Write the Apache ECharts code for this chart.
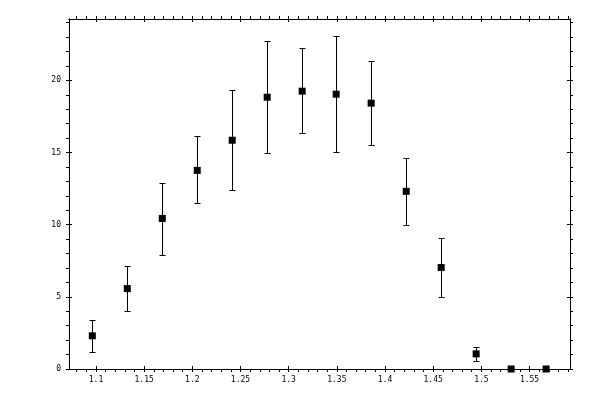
<!DOCTYPE html>
<html>
<head>
<meta charset="utf-8">
<script src="https://cdn.jsdelivr.net/npm/echarts@6/dist/echarts.min.js"></script>
<style>html,body{margin:0;padding:0;background:#fff}#c{width:600px;height:400px}</style>
</head>
<body>
<div id="c"></div>
<script>
var xValues = [1.0962, 1.1325, 1.1688, 1.2051, 1.2414, 1.2777, 1.3140, 1.3493, 1.3856, 1.4220, 1.4583, 1.4946, 1.5309, 1.5672];
var yValues = [2.30, 5.57, 10.43, 13.76, 15.85, 18.83, 19.25, 19.04, 18.42, 12.31, 7.03, 1.05, 0, 0];
var yHigh   = [3.42, 7.17, 12.86, 16.13, 19.32, 22.72, 22.24, 23.07, 21.33, 14.60, 9.11, 1.54, 0, 0];
var yLow    = [1.15, 4.04, 7.93, 11.47, 12.38, 14.94, 16.33, 15.01, 15.50, 10.01, 4.97, 0.57, 0, 0];
var xMajorTicks = [1.1, 1.15, 1.2, 1.25, 1.3, 1.35, 1.4, 1.45, 1.5, 1.55];
var xMinorTicks = [1.08,1.09,1.10,1.11,1.12,1.13,1.14,1.15,1.16,1.17,1.18,1.19,1.20,1.21,1.22,1.23,1.24,1.25,1.26,1.27,1.28,1.29,1.30,1.31,1.32,1.33,1.34,1.35,1.36,1.37,1.38,1.39,1.40,1.41,1.42,1.43,1.44,1.45,1.46,1.47,1.48,1.49,1.50,1.51,1.52,1.53,1.54,1.55,1.56,1.57,1.58,1.59];
var yMajorTicks = [0, 5, 10, 15, 20];
var yMinorTicks = [0,1,2,3,4,5,6,7,8,9,10,11,12,13,14,15,16,17,18,19,20,21,22,23,24];
var xMin = 1.072, xMax = 1.592, yMin = 0, yMax = 24.25;

var font = {fontFamily: 'DejaVu Sans Mono', fontSize: 8, color: '#000'};
function xAx(pos, opts) {
  return Object.assign({
    type: 'value', position: pos, min: xMin, max: xMax,
    splitLine: {show: false},
    axisLine: {show: true, onZero: false, lineStyle: {color: '#000', width: 1}},
    axisLabel: {show: false},
    axisTick: {show: false}
  }, opts);
}
function yAx(pos, opts) {
  return Object.assign({
    type: 'value', position: pos, min: yMin, max: yMax,
    splitLine: {show: false},
    axisLine: {show: true, onZero: false, lineStyle: {color: '#000', width: 1}},
    axisLabel: {show: false},
    axisTick: {show: false}
  }, opts);
}
var tickOut = function (vals) { return {show: true, inside: false, length: 3, customValues: vals, lineStyle: {color: '#000', width: 1}}; };
var tickIn = function (vals) { return {show: true, inside: true, length: 3, customValues: vals, lineStyle: {color: '#000', width: 1}}; };

var xAxes = [
  xAx('bottom', {axisTick: tickOut(xMinorTicks),
    axisLabel: Object.assign({show: true, margin: 7, customValues: xMajorTicks, formatter: function (v) { return String(Math.round(v * 100) / 100); }}, font)}),
  xAx('bottom', {axisTick: tickIn(xMajorTicks)}),
  xAx('top', {axisTick: tickOut(xMinorTicks)}),
  xAx('top', {axisTick: tickIn(xMajorTicks)})
];
var yAxes = [
  yAx('left', {axisTick: tickOut(yMinorTicks),
    axisLabel: Object.assign({show: true, margin: 8, customValues: yMajorTicks}, font)}),
  yAx('left', {axisTick: tickIn(yMajorTicks)}),
  yAx('right', {axisTick: tickOut(yMinorTicks)}),
  yAx('right', {axisTick: tickIn(yMajorTicks)})
];

var points = xValues.map(function (x, i) { return [x, yValues[i]]; });
var bars = xValues.map(function (x, i) { return [x, yLow[i], yHigh[i]]; });

var chart = echarts.init(document.getElementById('c'), null, {renderer: 'canvas'});
chart.setOption({
  animation: false,
  backgroundColor: '#fff',
  grid: {left: 69, right: 30, top: 19, bottom: 31, containLabel: false},
  xAxis: xAxes,
  yAxis: yAxes,
  series: [
    {
      type: 'custom', xAxisIndex: 0, yAxisIndex: 0, clip: false,
      data: bars,
      renderItem: function (params, api) {
        var x = api.value(0), lo = api.value(1), hi = api.value(2);
        if (hi - lo <= 0) return {type: 'group', children: []};
        var pTop = api.coord([x, hi]), pBot = api.coord([x, lo]);
        var cx = Math.round(pTop[0]) + 0.5;
        var ty = Math.round(pTop[1]) + 0.5, by = Math.round(pBot[1]) + 0.5;
        var w = 3, st = {stroke: '#000', lineWidth: 1};
        return {type: 'group', children: [
          {type: 'line', shape: {x1: cx, y1: ty, x2: cx, y2: by}, style: st},
          {type: 'line', shape: {x1: cx - w, y1: ty, x2: cx + w, y2: ty}, style: st},
          {type: 'line', shape: {x1: cx - w, y1: by, x2: cx + w, y2: by}, style: st}
        ]};
      }
    },
    {
      type: 'scatter', xAxisIndex: 0, yAxisIndex: 0, clip: false,
      symbol: 'rect', symbolSize: 7,
      itemStyle: {color: '#000', opacity: 1},
      data: points
    }
  ]
});
</script>
</body>
</html>
